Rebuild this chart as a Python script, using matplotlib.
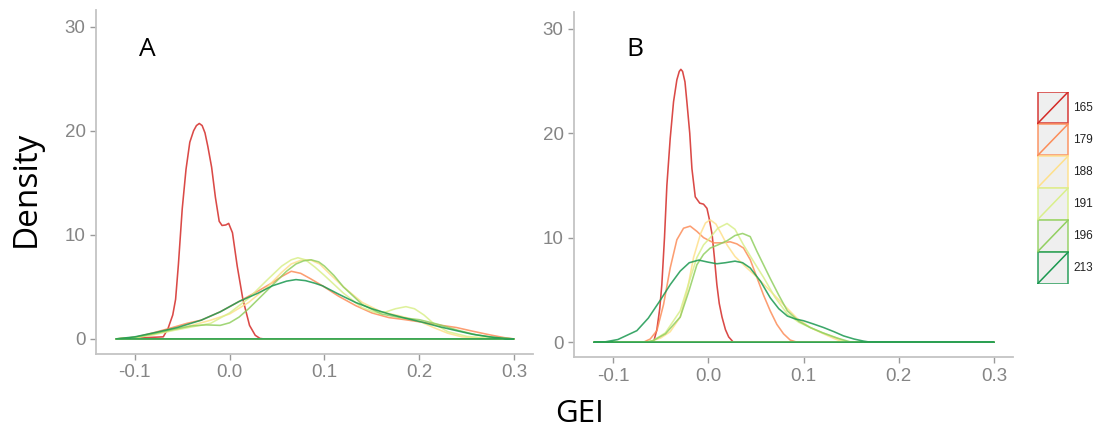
import matplotlib
matplotlib.use("Agg")
import matplotlib.pyplot as plt
from matplotlib.patches import Rectangle

# groups and their colours (RdYlGn, 6 classes)
groups = ["165", "179", "188", "191", "196", "213"]
colors = ["#d42a27", "#fc8d59", "#fee08b", "#d9ef8b", "#91cf60", "#1a9850"]
xticks = [-0.1, 0.0, 0.1, 0.2, 0.3]
yticks = [0, 10, 20, 30]

# panel A density curves (GEI, density)
gei_a_165 = [-0.12, -0.07, -0.065, -0.06, -0.057, -0.054, -0.05, -0.046, -0.042, -0.038, -0.035,
             -0.032, -0.029, -0.026, -0.023, -0.019, -0.015, -0.011, -0.008, -0.004, -0.001,
             0.003, 0.008, 0.014, 0.021, 0.027, 0.032, 0.036, 0.30]
den_a_165 = [0, 0.2, 1.0, 2.3, 3.8, 7.2, 12.5, 16.3, 18.9, 20.0, 20.5, 20.7, 20.5, 19.8, 18.5,
             16.5, 13.6, 11.3, 10.9, 10.95, 11.1, 10.2, 7.0, 3.8, 1.3, 0.35, 0.05, 0, 0]
gei_a_179 = [-0.12, -0.1, -0.08, -0.06, -0.045, -0.03, -0.01, 0.01, 0.03, 0.045, 0.055, 0.065,
             0.075, 0.085, 0.098, 0.115, 0.133, 0.15, 0.168, 0.185, 0.2035, 0.22, 0.239, 0.256,
             0.274, 0.29, 0.30]
den_a_179 = [0, 0.15, 0.6, 1.1, 1.5, 1.8, 2.6, 3.6, 4.6, 5.4, 6.0, 6.5, 6.3, 5.8, 5.1, 4.1, 3.2,
             2.5, 2.05, 1.85, 1.6, 1.35, 1.1, 0.75, 0.4, 0.12, 0]
gei_a_188 = [-0.12, -0.1, -0.08, -0.06, -0.04, -0.02, 0.0, 0.02, 0.04, 0.055, 0.065, 0.075, 0.085,
             0.095, 0.105, 0.12, 0.14, 0.16, 0.18, 0.20, 0.215, 0.23, 0.245, 0.26, 0.28, 0.30]
den_a_188 = [0, 0.15, 0.45, 0.9, 1.3, 1.8, 2.4, 3.5, 5.0, 6.4, 7.2, 7.55, 7.6, 7.2, 6.3, 5.0, 3.5,
             2.6, 2.2, 1.7, 1.1, 0.55, 0.2, 0.08, 0.02, 0]
gei_a_191 = [-0.12, -0.1, -0.08, -0.06, -0.04, -0.02, 0.0, 0.02, 0.04, 0.055, 0.065, 0.072, 0.08,
             0.09, 0.10, 0.12, 0.14, 0.155, 0.165, 0.175, 0.186, 0.195, 0.205, 0.215, 0.23, 0.25,
             0.27, 0.30]
den_a_191 = [0, 0.1, 0.4, 0.8, 1.15, 1.5, 2.5, 3.9, 5.7, 7.0, 7.6, 7.8, 7.6, 6.9, 6.1, 4.4, 3.0,
             2.5, 2.6, 2.9, 3.1, 2.9, 2.3, 1.5, 0.7, 0.25, 0.08, 0]
gei_a_196 = [-0.12, -0.1, -0.08, -0.06, -0.04, -0.025, -0.01, 0.0, 0.01, 0.02, 0.03, 0.04, 0.05,
             0.06, 0.07, 0.078, 0.086, 0.094, 0.10, 0.11, 0.12, 0.14, 0.16, 0.18, 0.20, 0.22, 0.24,
             0.26, 0.28, 0.30]
den_a_196 = [0, 0.15, 0.5, 0.9, 1.25, 1.35, 1.3, 1.55, 2.1, 2.9, 3.8, 4.7, 5.6, 6.5, 7.2, 7.5, 7.6,
             7.4, 7.0, 6.1, 5.0, 3.3, 2.4, 2.05, 1.85, 1.4, 0.85, 0.4, 0.12, 0]
gei_a_213 = [-0.12, -0.1, -0.077, -0.055, -0.03, -0.01, 0.01, 0.03, 0.045, 0.06, 0.07, 0.08, 0.09,
             0.098, 0.115, 0.133, 0.15, 0.168, 0.185, 0.2035, 0.22, 0.239, 0.256, 0.274, 0.29, 0.30]
den_a_213 = [0, 0.2, 0.64, 1.1, 1.8, 2.6, 3.6, 4.4, 5.1, 5.55, 5.7, 5.6, 5.35, 5.1, 4.3, 3.5, 2.9,
             2.4, 2.0, 1.6, 1.2, 0.8, 0.45, 0.2, 0.05, 0]

# panel B density curves
gei_b_165 = [-0.12, -0.0575, -0.054, -0.051, -0.0488, -0.046, -0.0435, -0.040, -0.0365, -0.033,
             -0.0305, -0.0288, -0.027, -0.0245, -0.0225, -0.0195, -0.0172, -0.0137, -0.009, -0.005,
             -0.0014, 0.001, 0.004, 0.0065, 0.009, 0.0115, 0.0144, 0.018, 0.0214, 0.0263, 0.30]
den_b_165 = [0, 0, 1.2, 3.2, 5.5, 10.0, 15.0, 19.5, 23.0, 25.1, 25.9, 26.1, 25.9, 24.9, 23.0, 20.0,
             16.6, 13.9, 13.3, 13.2, 12.8, 11.8, 10.3, 8.0, 5.5, 3.7, 2.4, 1.2, 0.5, 0, 0]
gei_b_179 = [-0.12, -0.068, -0.061, -0.054, -0.047, -0.040, -0.033, -0.026, -0.019, -0.012,
             -0.005, 0.0056, 0.014, 0.023, 0.030, 0.037, 0.044, 0.051, 0.058, 0.065, 0.072, 0.079,
             0.086, 0.093, 0.30]
den_b_179 = [0, 0, 0.3, 1.1, 3.6, 7.1, 9.8, 10.9, 11.1, 10.6, 10.0, 9.5, 9.5, 9.6, 9.4, 9.0, 7.9,
             6.2, 4.5, 3.0, 1.7, 0.8, 0.2, 0, 0]
gei_b_188 = [-0.12, -0.063, -0.05, -0.04, -0.0295, -0.022, -0.0155, -0.008, -0.003, 0.002, 0.008,
             0.014, 0.0197, 0.028, 0.037, 0.05, 0.065, 0.08, 0.093, 0.107, 0.121, 0.132, 0.142, 0.30]
den_b_188 = [0, 0, 0.4, 1.0, 2.4, 5.0, 8.1, 10.4, 11.4, 11.7, 11.3, 10.3, 9.3, 8.2, 7.4, 6.3, 4.9,
             3.5, 2.3, 1.4, 0.8, 0.35, 0, 0]
gei_b_191 = [-0.12, -0.065, -0.058, -0.045, -0.0295, -0.02, -0.012, -0.005, 0.002, 0.01, 0.0197,
             0.028, 0.037, 0.047, 0.058, 0.07, 0.083, 0.095, 0.107, 0.12, 0.135, 0.145, 0.30]
den_b_191 = [0, 0, 0.15, 0.9, 3.0, 5.8, 8.1, 9.3, 10.0, 10.9, 11.35, 10.8, 9.3, 7.8, 6.2, 4.3, 2.7,
             1.9, 1.4, 0.9, 0.4, 0, 0]
gei_b_196 = [-0.12, -0.065, -0.058, -0.045, -0.0295, -0.02, -0.012, -0.005, 0.002, 0.01, 0.0197,
             0.028, 0.036, 0.044, 0.051, 0.058, 0.065, 0.074, 0.083, 0.095, 0.107, 0.12, 0.135,
             0.15, 0.30]
den_b_196 = [0, 0, 0.15, 0.8, 2.4, 5.0, 7.4, 8.4, 9.0, 9.3, 9.7, 10.2, 10.4, 10.1, 8.7, 7.4, 6.1,
             4.5, 3.0, 2.0, 1.4, 0.9, 0.4, 0, 0]
gei_b_213 = [-0.12, -0.11, -0.095, -0.075, -0.063, -0.0505, -0.04, -0.0295, -0.02, -0.010, 0.0,
             0.009, 0.018, 0.028, 0.036, 0.044, 0.055, 0.065, 0.074, 0.083, 0.092, 0.100, 0.11,
             0.121, 0.132, 0.142, 0.153, 0.163, 0.17, 0.30]
den_b_213 = [0, 0, 0.25, 1.1, 2.3, 4.0, 5.5, 6.8, 7.6, 7.85, 7.65, 7.5, 7.6, 7.75, 7.6, 7.1, 5.8,
             4.25, 3.2, 2.5, 2.2, 2.05, 1.75, 1.4, 1.0, 0.6, 0.3, 0.1, 0, 0]

panel_a = [(gei_a_165, den_a_165), (gei_a_179, den_a_179), (gei_a_188, den_a_188),
           (gei_a_191, den_a_191), (gei_a_196, den_a_196), (gei_a_213, den_a_213)]
panel_b = [(gei_b_165, den_b_165), (gei_b_179, den_b_179), (gei_b_188, den_b_188),
           (gei_b_191, den_b_191), (gei_b_196, den_b_196), (gei_b_213, den_b_213)]

plt.rcParams['font.family'] = ['Liberation Sans', 'DejaVu Sans']
label_font = ['Open Sans', 'DejaVu Sans']

fig = plt.figure(figsize=(10.98, 4.34), dpi=100)
ax_a = fig.add_axes([0.0874, 0.1843, 0.398, 0.7926])
ax_b = fig.add_axes([0.5228, 0.1767, 0.3998, 0.796])

for ax, curves, tag, tx in [(ax_a, panel_a, "A", 0.1338), (ax_b, panel_b, "B", 0.5778)]:
    # density outlines are closed polygons, so each one also runs along y = 0
    for (xs, ys), c in zip(curves, colors):
        ax.fill(xs, ys, facecolor='none', edgecolor=c, lw=1.15, alpha=0.85, joinstyle='round')
    ax.set_xlim(-0.141, 0.320)
    ax.set_ylim(-1.45, 31.6)
    ax.set_xticks(xticks)
    ax.set_xticklabels(["-0.1", "0.0", "0.1", "0.2", "0.3"])
    ax.set_yticks(yticks)
    for s in ["top", "right"]:
        ax.spines[s].set_visible(False)
    for s in ["left", "bottom"]:
        ax.spines[s].set_color("#c4c4c4")
        ax.spines[s].set_linewidth(1.3)
    ax.tick_params(colors="#9a9a9a", labelcolor="#858585", labelsize=13.5, length=4, width=1)
    fig.text(tx, 0.885, tag, fontsize=19, family=label_font,
             ha='center', va='center', color='black')

fig.text(0.024, 0.565, "Density", rotation=90, fontsize=24, family=label_font,
         ha='center', va='center')
fig.text(0.528, 0.045, "GEI", fontsize=22.5, family=label_font,
         ha='center', va='center')

# legend keys: grey box, coloured outline and diagonal
leg = fig.add_axes([1036.7 / 1098, (434 - 284) / 434, 32.3 / 1098, 192.3 / 434])
leg.set_xlim(0, 1)
leg.set_ylim(0, 6)
leg.axis("off")
for i, (g, c) in enumerate(zip(groups, colors)):
    y0 = 5 - i
    leg.add_patch(Rectangle((0.03, y0 + 0.01), 0.94, 0.98, facecolor="#ededed",
                            edgecolor=c, lw=1.2, alpha=0.85))
    leg.plot([0.03, 0.97], [y0 + 0.01, y0 + 0.99], color=c, lw=1.1)
    fig.text(1073 / 1098, (434 - (91.7 + 32.05 * (i + 0.5))) / 434, g, fontsize=8.5,
             color="#222222", ha='left', va='center')

fig.savefig("out.png", dpi=100)
